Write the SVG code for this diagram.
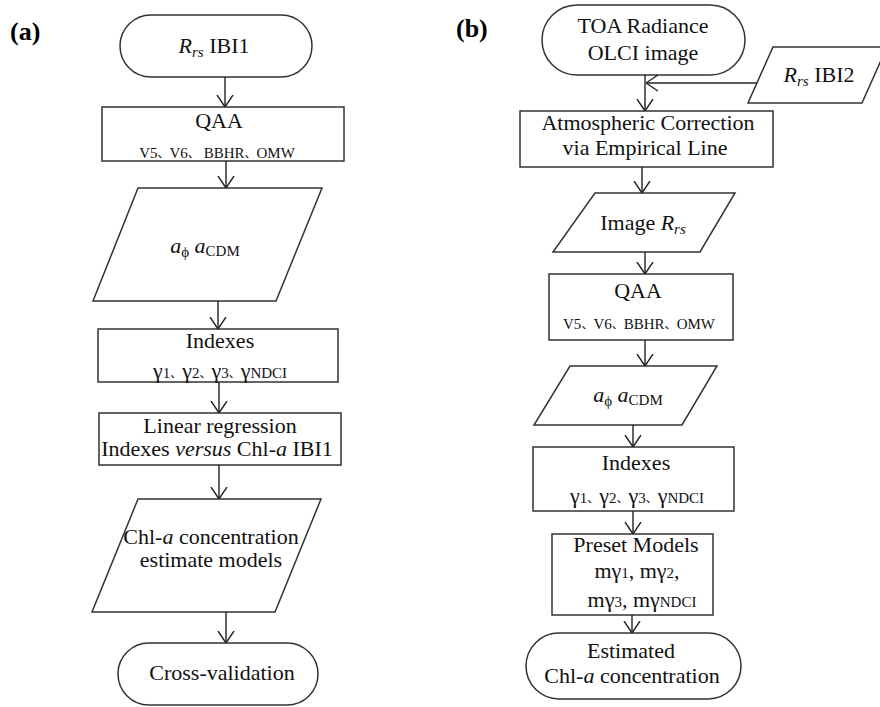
<svg xmlns="http://www.w3.org/2000/svg" width="880" height="707" viewBox="0 0 880 707">
<defs>
<marker id="ah" viewBox="0 0 12 18" refX="12" refY="9" markerWidth="12" markerHeight="18" markerUnits="userSpaceOnUse" orient="auto">
<path d="M0,1 L12,9 L0,17" fill="none" stroke="#222" stroke-width="1.4"/>
</marker>
</defs>
<style>
.s{fill:#fff;stroke:#333;stroke-width:1.5}
.t{font-family:"Liberation Serif","Times New Roman",serif;font-size:22px;fill:#111;text-anchor:middle}
.sm{font-size:15px}
.i{font-style:italic}
.sub{font-size:15px}
.sep{font-family:"Noto Sans CJK SC",sans-serif;font-size:12px}
.lbl{font-family:"Liberation Serif",serif;font-size:26px;font-weight:bold;fill:#000}
.c line{stroke:#222;stroke-width:1.4;marker-end:url(#ah)}
</style>
<text class="lbl" x="10" y="40">(a)</text>
<text class="lbl" x="456" y="37">(b)</text>

<g id="a1"><rect class="s" x="120" y="15" width="192" height="62" rx="31"/><text class="t" x="214" y="53"><tspan class="i">R</tspan><tspan class="i sub" dy="4">rs</tspan><tspan dy="-4">  IBI1</tspan></text></g>
<g id="a2"><rect class="s" x="102" y="107" width="242" height="54"/><text class="t" x="219" y="128">QAA</text><text class="t sm" x="217" y="158">V5<tspan class="sep">、</tspan>V6<tspan class="sep">、</tspan> BBHR<tspan class="sep">、</tspan>OMW</text></g>
<g id="a3"><polygon class="s" points="138,188 322,188 276,301 93,301"/><text class="t" x="205" y="253"><tspan class="i">a</tspan><tspan class="sub" dy="4">ϕ</tspan><tspan class="i" dy="-4"> a</tspan><tspan class="sub" dy="3">CDM</tspan></text></g>
<g id="a4"><rect class="s" x="98" y="329" width="240" height="53"/><text class="t" x="220" y="348">Indexes</text><text class="t" x="220" y="378">γ<tspan class="sub">1</tspan><tspan class="sep">、</tspan>γ<tspan class="sub">2</tspan><tspan class="sep">、</tspan>γ<tspan class="sub">3</tspan><tspan class="sep">、</tspan>γ<tspan class="sub">NDCI</tspan></text></g>
<g id="a5"><rect class="s" x="99" y="413" width="242" height="52"/><text class="t" x="220" y="433">Linear regression</text><text class="t" x="217" y="456">Indexes <tspan class="i">versus</tspan> Chl-<tspan class="i">a</tspan> IBI1</text></g>
<g id="a6"><polygon class="s" points="138,499 321,499 275,612 92,612"/><text class="t" x="211" y="544">Chl-<tspan class="i">a</tspan> concentration</text><text class="t" x="211" y="567">estimate models</text></g>
<g id="a7"><rect class="s" x="118" y="643" width="200" height="62" rx="31"/><text class="t" x="222" y="680">Cross-validation</text></g>

<g id="b1"><rect class="s" x="542" y="5" width="203" height="70" rx="35"/><text class="t" x="643" y="33">TOA Radiance</text><text class="t" x="643" y="60">OLCI image</text></g>
<g id="b2"><polygon class="s" points="773,47 887,47 862,103 748,103"/><text class="t" x="819" y="82"><tspan class="i">R</tspan><tspan class="i sub" dy="4">rs</tspan><tspan dy="-4"> IBI2</tspan></text></g>
<g id="b3"><rect class="s" x="520" y="111" width="253" height="56"/><text class="t" x="648" y="130">Atmospheric Correction</text><text class="t" x="645" y="155">via Empirical  Line</text></g>
<g id="b4"><polygon class="s" points="595,193 735,193 700,252 553,252"/><text class="t" x="643" y="230">Image <tspan class="i">R</tspan><tspan class="i sub" dy="4">rs</tspan></text></g>
<g id="b5"><rect class="s" x="549" y="274" width="184" height="66"/><text class="t" x="638" y="298">QAA</text><text class="t sm" x="639" y="329">V5<tspan class="sep">、</tspan>V6<tspan class="sep">、</tspan>BBHR<tspan class="sep">、</tspan>OMW</text></g>
<g id="b6"><polygon class="s" points="570,366 717,366 682,425 534,425"/><text class="t" x="628" y="402"><tspan class="i">a</tspan><tspan class="sub" dy="4">ϕ</tspan><tspan class="i" dy="-4"> a</tspan><tspan class="sub" dy="3">CDM</tspan></text></g>
<g id="b7"><rect class="s" x="533" y="447" width="201" height="64"/><text class="t" x="636" y="470">Indexes</text><text class="t" x="637" y="503">γ<tspan class="sub">1</tspan><tspan class="sep">、</tspan>γ<tspan class="sub">2</tspan><tspan class="sep">、</tspan>γ<tspan class="sub">3</tspan><tspan class="sep">、</tspan>γ<tspan class="sub">NDCI</tspan></text></g>
<g id="b8"><rect class="s" x="552" y="534" width="161" height="81"/><text class="t" x="636" y="552">Preset Models</text><text class="t" x="637" y="578">mγ<tspan class="sub">1</tspan>, mγ<tspan class="sub">2</tspan>,</text><text class="t" x="642" y="607">mγ<tspan class="sub">3</tspan>, mγ<tspan class="sub">NDCI</tspan></text></g>
<g id="b9"><rect class="s" x="526" y="633" width="215" height="66" rx="33"/><text class="t" x="631" y="658">Estimated</text><text class="t" x="632" y="683">Chl-<tspan class="i">a</tspan> concentration</text></g>

<g id="connectors" class="c">
<line x1="225" y1="77" x2="225" y2="107"/>
<line x1="226" y1="161" x2="226" y2="188"/>
<line x1="218" y1="301" x2="218" y2="329"/>
<line x1="219" y1="382" x2="219" y2="413"/>
<line x1="219" y1="465" x2="219" y2="499"/>
<line x1="226" y1="612" x2="226" y2="643"/>
<line x1="645" y1="75" x2="645" y2="111"/>
<line x1="757" y1="83" x2="646" y2="83"/>
<line x1="642" y1="167" x2="642" y2="193"/>
<line x1="645" y1="252" x2="645" y2="274"/>
<line x1="645" y1="340" x2="645" y2="366"/>
<line x1="633" y1="425" x2="633" y2="447"/>
<line x1="633" y1="511" x2="633" y2="534"/>
<line x1="632" y1="615" x2="632" y2="633"/>
</g>
</svg>
